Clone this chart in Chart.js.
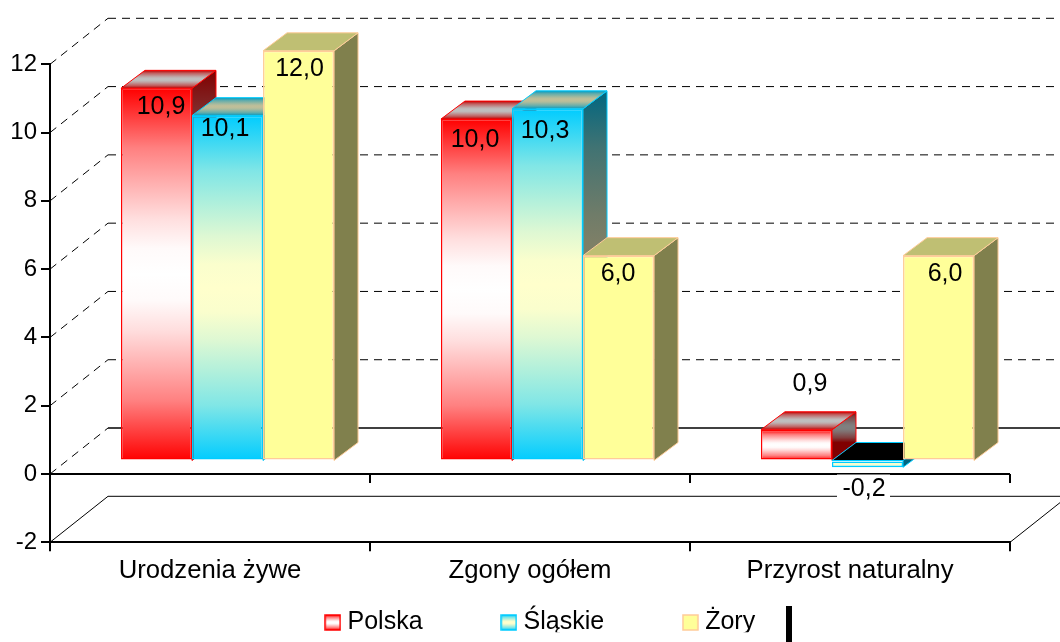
<!DOCTYPE html>
<html>
<head>
<meta charset="utf-8">
<title>Ruch naturalny</title>
<script src="https://cdn.jsdelivr.net/npm/chart.js@4/dist/chart.umd.min.js"></script>
<style>
  html, body { margin: 0; padding: 0; background: #fff; }
  canvas { display: block; }
</style>
</head>
<body>
<canvas id="chart" width="1060" height="642"></canvas>
<script>
const categories = ['Urodzenia żywe', 'Zgony ogółem', 'Przyrost naturalny'];
const seriesNames = ['Polska', 'Śląskie', 'Żory'];
const polska = [10.9, 10.0, 0.9];
const slaskie = [10.1, 10.3, -0.2];
const zory = [12.0, 6.0, 6.0];

const edgeColors = ['#ff0000', '#00ccff', '#ffff99'];
const midColors = ['#ffffff', '#ffffcc', '#ffff99'];
const borderColors = ['#ff0000', '#00ccff', '#ffcc99'];

// gradient shape: [position, share of the middle colour]
const gradientStops = [[0, 0], [0.16, 0.5], [0.25, 0.68], [0.35, 0.87], [0.43, 0.98], [0.5, 1],
    [0.57, 0.98], [0.65, 0.87], [0.75, 0.68], [0.84, 0.5], [1, 0]];

// how far the bars sit inside the box, and how deep they are
const barShift = { x: 17.5, y: -13.5 };
const barDepth = { x: 24, y: -18 };
const wallDepth = { x: 58, y: -46 };

// hand placed value labels, relative to the top middle of each front face
const labelNudge = [
    [[4.5, 18.5], [-2.5, 13.5], [1, 18.5]],
    [[-1.5, 21.5], [-2.5, 22.5], [-0.5, 18.5]],
    [[13.5, -45.5], [-3.5, 28.5], [6.5, 18.5]]
];

Chart.defaults.font.family = '"Liberation Sans", Arial, sans-serif';
Chart.defaults.color = '#000';

function mixColor(i, share, f) {
    let a = parseInt(edgeColors[i].slice(1), 16);
    let b = parseInt(midColors[i].slice(1), 16);
    let part = shift => Math.round(((a >> shift & 255) * (1 - share) + (b >> shift & 255) * share) * f);
    return `rgb(${part(16)},${part(8)},${part(0)})`;
}

function barGradient(ctx, i, top, bottom, f) {
    let g = ctx.createLinearGradient(0, top, 0, bottom);
    gradientStops.forEach(s => g.addColorStop(s[0], mixColor(i, s[1], f)));
    return g;
}

function frontFill(context) {
    let chart = context.chart;
    if (context.type !== 'data' || !chart.scales.y) return edgeColors[context.datasetIndex];
    let value = context.parsed.y;
    let y = chart.scales.y.getPixelForValue(value);
    let zero = chart.scales.y.getPixelForValue(0);
    return barGradient(chart.ctx, context.datasetIndex, Math.min(y, zero), Math.max(y, zero), 1);
}

// small canvas used as the legend swatch
function makeSwatch(i) {
    let c = document.createElement('canvas');
    c.width = 17;
    c.height = 17;
    let ctx = c.getContext('2d');
    ctx.fillStyle = barGradient(ctx, i, 1, 16, 1);
    ctx.fillRect(1, 1, 15, 15);
    ctx.strokeStyle = borderColors[i];
    ctx.lineWidth = 1.5;
    ctx.strokeRect(1, 1, 15, 15);
    return c;
}

function drawFaces(ctx, i, bar, zero) {
    let left = bar.x - bar.width / 2;
    let right = bar.x + bar.width / 2;
    let top = Math.min(bar.y, zero);
    let bottom = Math.max(bar.y, zero);
    let dx = barDepth.x;
    let dy = barDepth.y;
    ctx.strokeStyle = borderColors[i];
    ctx.lineWidth = 1;

    ctx.beginPath();
    ctx.moveTo(right, top);
    ctx.lineTo(right + dx, top + dy);
    ctx.lineTo(right + dx, bottom + dy);
    ctx.lineTo(right, bottom);
    ctx.closePath();
    ctx.fillStyle = barGradient(ctx, i, top + dy, bottom + dy, 0.5);
    ctx.fill();
    ctx.stroke();

    ctx.beginPath();
    ctx.moveTo(left, top);
    ctx.lineTo(left + dx, top + dy);
    ctx.lineTo(right + dx, top + dy);
    ctx.lineTo(right, top);
    ctx.closePath();
    ctx.fillStyle = bar.y > zero ? '#000' : barGradient(ctx, i, top + dy, top, 0.75);
    ctx.fill();
    ctx.stroke();
}

const boxPlugin = {
    id: 'box',
    beforeDatasetsDraw(chart) {
        let ctx = chart.ctx;
        let area = chart.chartArea;
        let yScale = chart.scales.y;
        ctx.save();
        ctx.strokeStyle = '#000';
        yScale.ticks.forEach(tick => {
            let y = yScale.getPixelForValue(tick.value);
            let solidWall = tick.value <= 0;
            ctx.lineWidth = tick.value === 0 ? 1.5 : 1;
            ctx.setLineDash(solidWall ? [] : [8, 6]);
            ctx.beginPath();
            ctx.moveTo(area.left + wallDepth.x, y + wallDepth.y);
            ctx.lineTo(chart.width, y + wallDepth.y);
            ctx.stroke();
            ctx.lineWidth = 1;
            ctx.setLineDash(tick.value < 0 ? [] : [8, 6]);
            ctx.beginPath();
            ctx.moveTo(area.left, y);
            ctx.lineTo(area.left + wallDepth.x, y + wallDepth.y);
            ctx.stroke();
        });
        ctx.setLineDash([]);
        ctx.lineWidth = 1;
        ctx.beginPath();
        ctx.moveTo(area.right, area.bottom);
        ctx.lineTo(area.right + wallDepth.x, area.bottom + wallDepth.y);
        ctx.stroke();

        let zero = yScale.getPixelForValue(0);
        ctx.lineWidth = 2;
        ctx.beginPath();
        ctx.moveTo(area.left, zero);
        ctx.lineTo(area.right, zero);
        for (let i = 0; i <= categories.length; i++) {
            let x = area.left + i * area.width / categories.length;
            ctx.moveTo(x, zero);
            ctx.lineTo(x, zero + 9);
        }
        ctx.stroke();
        ctx.restore();

        // left series first, each front face has to cover the side of its neighbour
        ctx.save();
        ctx.translate(barShift.x, barShift.y);
        chart.data.datasets.forEach((set, i) => {
            let meta = chart.getDatasetMeta(i);
            meta.data.forEach(bar => drawFaces(ctx, i, bar, zero));
            meta.controller.draw();
        });
        ctx.restore();
    },
    beforeDatasetDraw() {
        return false; // already drawn above
    },
    afterDatasetsDraw(chart) {
        let ctx = chart.ctx;
        ctx.save();
        ctx.font = '25px "Liberation Sans", Arial, sans-serif';
        ctx.textAlign = 'center';
        ctx.textBaseline = 'middle';
        chart.data.datasets.forEach((set, i) => {
            chart.getDatasetMeta(i).data.forEach((bar, j) => {
                let text = set.data[j].toFixed(1).replace('.', ',');
                let zero = chart.scales.y.getPixelForValue(0);
                let x = bar.x + barShift.x + labelNudge[j][i][0];
                let y = Math.min(bar.y, zero) + barShift.y + labelNudge[j][i][1];
                if (set.data[j] < 0) {
                    ctx.fillStyle = '#fff';
                    ctx.fillRect(x - 27, y - 14.5, 53, 23);
                }
                ctx.fillStyle = '#000';
                ctx.fillText(text, x, y);
            });
        });
        ctx.restore();
    },
    afterLayout(chart) {
        // legend row does not follow the plot, pin it under the chart
        let legend = chart.legend;
        let pad = legend.options.labels.padding;
        legend.left = 330.5 - pad;
        legend.right = chart.width;
        legend.top = 610 - pad;
    },
    afterDraw(chart) {
        // black stroke right of the legend in the original
        chart.ctx.fillStyle = '#000';
        chart.ctx.fillRect(786, 606, 6, 36);
    }
};

function makeDataset(i, values) {
    return {
        label: seriesNames[i],
        data: values,
        backgroundColor: frontFill,
        borderColor: borderColors[i],
        borderWidth: 1.5,
        borderSkipped: false,
        categoryPercentage: 0.666,
        barPercentage: 1
    };
}

new Chart(document.getElementById('chart'), {
    type: 'bar',
    data: {
        labels: categories,
        datasets: [makeDataset(0, polska), makeDataset(1, slaskie), makeDataset(2, zory)]
    },
    plugins: [boxPlugin],
    options: {
        responsive: false,
        animation: false,
        layout: { padding: { top: 64.3, right: 50, bottom: 9.7, left: 0 } },
        scales: {
            x: {
                afterFit(scale) { scale.height = 60; },
                border: { color: '#000', width: 2 },
                grid: { offset: true, drawOnChartArea: false, color: '#000', lineWidth: 2, tickLength: 9 },
                ticks: { color: '#000', font: { size: 25.7 }, padding: 4, maxRotation: 0 }
            },
            y: {
                min: -2,
                max: 12,
                afterFit(scale) { scale.width = 50; },
                border: { color: '#000', width: 2 },
                grid: { drawOnChartArea: false, color: '#000', lineWidth: 2, tickLength: 9 },
                ticks: { stepSize: 2, color: '#000', font: { size: 24 }, padding: 4 }
            }
        },
        plugins: {
            tooltip: { enabled: false },
            legend: {
                position: 'bottom',
                align: 'start',
                maxHeight: 30,
                labels: {
                    usePointStyle: true,
                    pointStyleWidth: 4.5,
                    boxHeight: 15,
                    padding: 84,
                    color: '#000',
                    font: { size: 25 },
                    generateLabels(chart) {
                        return seriesNames.map((name, i) => ({
                            text: name,
                            pointStyle: makeSwatch(i),
                            fillStyle: edgeColors[i],
                            strokeStyle: borderColors[i],
                            lineWidth: 1.5,
                            datasetIndex: i,
                            hidden: false
                        }));
                    }
                }
            }
        }
    }
});
</script>
</body>
</html>
